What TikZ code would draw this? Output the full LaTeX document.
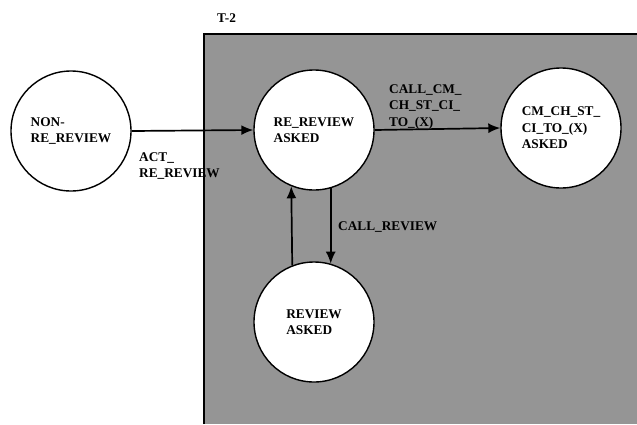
\documentclass[tikz,border=0pt]{standalone}
\usepackage{fontspec}
\setmainfont{Liberation Serif}
\usetikzlibrary{arrows.meta}
\definecolor{panelgray}{RGB}{149,149,149}
\begin{document}
\begin{tikzpicture}[x=1pt,y=-1pt,
  every node/.style={font=\fontsize{13.3}{16.5}\selectfont\bfseries},
  state/.style={circle,draw,fill=white,line width=1.4pt,minimum size=120pt,inner sep=0pt,align=left},
  arr/.style={line width=1.7pt,-{Latex[length=12pt,width=10pt]}},
  lbl/.style={anchor=north west,inner sep=0pt,align=left}]
\useasboundingbox (0,0) rectangle (637,424);
\fill[white] (0,0) rectangle (637,424);
\fill[panelgray] (204,34) rectangle (637,424);
\draw[line width=1.4pt] (204,424) -- (204,34) -- (637,34);
\node[lbl] (t2) at (217,13) {T-2};
\node[state] (non) at (71,131) {NON-\\RE\_REVIEW};
\node[state] (rr) at (314,130) {RE\_REVIEW\\ASKED};
\node[state] (cm) at (561,128) {CM\_CH\_ST\_\\CI\_TO\_(X)\\ASKED};
\node[state] (rv) at (314,322) {REVIEW\\ASKED};
\draw[arr] (non.east) -- (rr.west);
\draw[arr] (rr.east) -- (cm.west);
\draw[arr] (rr.286) -- (rv.74);
\draw[arr] (rv.111.5) -- (rr.248.5);
\node[lbl] (l1) at (139,152) {ACT\_\\RE\_REVIEW};
\node[lbl] (l2) at (389,84) {CALL\_CM\_\\CH\_ST\_CI\_\\TO\_(X)};
\node[lbl] (l3) at (338,221) {CALL\_REVIEW};
\end{tikzpicture}
\end{document}
